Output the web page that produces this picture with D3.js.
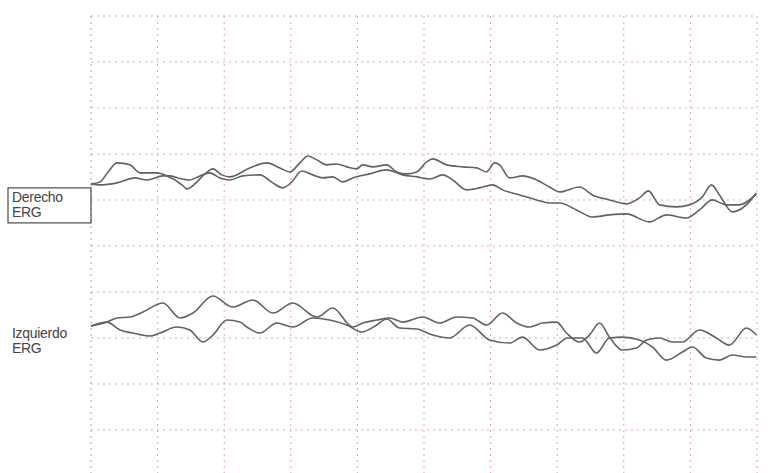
<!DOCTYPE html>
<html>
<head>
<meta charset="utf-8">
<script src="https://cdn.jsdelivr.net/npm/d3@7"></script>
<style>
  body { margin: 0; background: #fff; }
  svg { display: block; font-family: 'Liberation Sans', Arial, sans-serif; }
  .grid-line { fill: none; stroke-width: 1; stroke-dasharray: 2,4; }
  .trace { fill: none; stroke: #626262; stroke-width: 1.6; stroke-linejoin: round; }
  .label { font-size: 14px; fill: #444; letter-spacing: -0.3px; }
</style>
</head>
<body>
<svg width="775" height="473"></svg>
<script>
/* global d3 */

// time in ms, amplitude in µV (one division = 25 ms x 50 µV)
const timeTicks = d3.range(0, 251, 25);
const ampRows = d3.range(0, 10);
const grayRows = [0, 6, 7, 8];

const channelNames = ['Derecho', 'Izquierdo'];
const channelSub = 'ERG';
const channelOffsets = [3.65, 6.74]; // baseline, in divisions from top

// Derecho (right eye), two runs
const derechoA = [
  [0, 0], [3.4, 2.2], [6.4, 13.0], [9.75, 22.8], [14.6, 20.7], [18.4, 12.0],
  [24.75, 12.0], [28.5, 8.7], [31.5, 4.3], [34.1, -1.1], [36, -5.4], [39, 0],
  [42.75, 10.9], [45.75, 16.3], [49.1, 9.8], [52.1, 7.6], [59.6, 17.4], [66, 22.8],
  [70.9, 17.4], [74.6, 13.0], [78.4, 22.8], [81.4, 30.4], [84.75, 26.1], [88.5, 20.7],
  [92.25, 21.7], [96, 18.5], [99.75, 16.3], [102, 20.7], [105.75, 18.5], [111, 20.7],
  [114.75, 13.0], [118.5, 10.9], [122.25, 13.0], [126, 23.9], [128.25, 27.2], [133.5, 20.7],
  [139.5, 18.5], [144.75, 17.4], [148.5, 13.0], [151.5, 22.8], [153.4, 20.7], [157.1, 6.5],
  [162, 8.7], [167.25, 4.3], [172.1, -3.3], [175.9, -8.7], [183.4, -3.3], [188.25, -12.0],
  [194.6, -17.4], [201, -21.7], [205.9, -15.2], [209.25, -7.6], [213.4, -22.8], [219.75, -25.0],
  [224.6, -22.8], [229.5, -14.1], [232.9, -1.1], [235.9, -12.0], [240.75, -30.4], [246, -22.8],
  [249.75, -9.8]
];
const derechoB = [
  [0, 0], [3.4, -1.1], [9.75, 1.1], [16.5, 6.5], [21, 4.3], [27, 8.7],
  [29.6, 8.7], [32.6, 6.5], [37.1, 4.3], [40.9, 8.7], [44.6, 12.0], [48.4, 6.5],
  [52.1, 4.3], [57, 8.7], [63.4, 9.8], [68.25, 1.1], [72, -4.3], [75.4, 2.2],
  [79.1, 14.1], [83.25, 9.8], [87, 6.5], [90.75, 7.6], [94.5, 2.2], [98.25, 6.5],
  [104.6, 10.9], [111, 15.2], [117, 9.8], [122.25, 7.6], [127.1, 5.4], [132, 9.8],
  [135.75, 4.3], [141, -6.5], [145.9, -4.3], [150.75, -1.1], [154.5, -6.5], [160.9, -12.0],
  [167.25, -17.4], [172.1, -20.7], [175.9, -20.7], [182.25, -28.3], [188.25, -35.9], [194.6, -33.7],
  [201, -32.6], [209.6, -41.3], [216, -33.7], [223.5, -37.0], [228.4, -28.3], [233.25, -17.4],
  [238.5, -22.8], [243.4, -22.8], [249.75, -10.9]
];

// Izquierdo (left eye), two runs
const izquierdoA = [
  [0, 0], [6, 4.3], [9.75, 8.7], [14.6, 9.8], [19.5, 15.2], [27, 25.0],
  [33.4, 8.7], [38.25, 14.1], [45.75, 32.6], [53.25, 20.7], [60.75, 28.3], [68.25, 14.1],
  [75.75, 25.0], [84.75, 9.8], [90.75, 19.6], [98.25, -1.1], [102, 3.3], [107.25, 6.5],
  [112.1, 8.7], [117, 4.3], [124.5, 9.8], [130.9, 3.3], [137.25, 9.8], [143.25, 8.7],
  [148.5, 1.1], [154.5, 14.1], [159.75, 3.3], [164.6, -1.1], [169.5, 3.3], [174.75, 4.3],
  [178.5, -7.6], [183.4, -17.4], [187.1, -9.8], [190.9, 3.3], [194.6, -12.0], [199.5, -26.1],
  [204.75, -23.9], [208.5, -15.2], [213.4, -13.0], [218.25, -17.4], [222, -17.4], [228.4, -4.3],
  [234.75, -13.0], [239.6, -20.7], [246, -2.2], [249.75, -9.8]
];
const izquierdoB = [
  [0, 0], [6, 4.3], [10.9, -4.3], [15.75, -7.6], [22.1, -10.9], [25.9, -7.6],
  [32.25, -1.1], [37.1, -4.3], [42, -17.4], [45.75, -9.8], [51, 6.5], [55.9, 4.3],
  [58.5, -1.1], [63.4, -7.6], [69.75, 3.3], [75.75, -1.1], [83.25, 8.7], [89.6, 6.5],
  [96, 1.1], [101.6, -6.5], [107.25, 1.1], [111, 7.6], [115.9, -2.2], [122.25, -3.3],
  [128.25, -9.8], [134.6, -13.0], [142.1, 1.1], [149.6, -15.2], [157.1, -18.5], [162, -12.0],
  [168.4, -26.1], [174.75, -20.7], [178.9, -13.0], [184.5, -13.0], [189.75, -29.3], [194.6, -13.0],
  [199.5, -12.0], [205.9, -15.2], [210.75, -22.8], [216, -37.0], [222, -28.3], [225.75, -22.8],
  [231, -34.8], [235.9, -37.0], [240.75, -31.5], [246, -33.7], [249.75, -33.7]
];

const channelTraces = [[derechoA, derechoB], [izquierdoA, izquierdoB]];
const uvPerDiv = 50;

const build = () => {
  const svg = d3.select('svg');

  const x = d3.scaleLinear().domain([0, 250]).range([91, 757]);
  const row = d3.scaleLinear().domain([0, 9]).range([16, 430]);

  // grid
  const grid = svg.append('g').attr('class', 'grid');

  grid.selectAll('line.v')
    .data(timeTicks)
    .enter()
    .append('line')
    .attr('class', 'grid-line v')
    .attr('x1', d => x(d))
    .attr('x2', d => x(d))
    .attr('y1', row(0))
    .attr('y2', 473)
    .attr('stroke', (d, i) => i === 0 ? '#a8a8a8' : '#eba3b6');

  grid.selectAll('line.h')
    .data(ampRows)
    .enter()
    .append('line')
    .attr('class', 'grid-line h')
    .attr('x1', x(0))
    .attr('x2', x(250))
    .attr('y1', d => row(d))
    .attr('y2', d => row(d))
    .attr('stroke', d => grayRows.includes(d) ? '#b4b4b4' : '#eba3b6');

  // traces
  channelTraces.forEach((traces, c) => {
    const line = d3.line()
      .x(d => x(d[0]))
      .y(d => row(channelOffsets[c] - d[1] / uvPerDiv))
      .curve(d3.curveMonotoneX);

    svg.append('g')
      .attr('class', 'channel')
      .selectAll('path')
      .data(traces)
      .enter()
      .append('path')
      .attr('class', 'trace')
      .attr('d', line);
  });

  // labels
  const labels = svg.append('g').attr('class', 'labels');

  labels.append('rect')
    .attr('x', 8)
    .attr('y', row(channelOffsets[0]) + 4)
    .attr('width', x(0) - 8)
    .attr('height', 35)
    .attr('fill', 'none')
    .attr('stroke', '#4a4a4a')
    .attr('stroke-width', 1.2);

  const labelTops = [row(channelOffsets[0]) + 18, row(channelOffsets[1]) + 12];

  channelNames.forEach((name, i) => {
    labels.append('text')
      .attr('class', 'label')
      .attr('x', 12)
      .attr('y', labelTops[i])
      .text(name);
    labels.append('text')
      .attr('class', 'label')
      .attr('x', 12)
      .attr('y', labelTops[i] + 15)
      .text(channelSub);
  });
};

build();
</script>
</body>
</html>
